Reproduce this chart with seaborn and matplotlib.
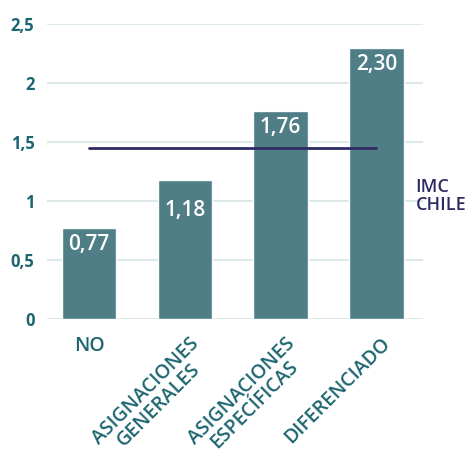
import matplotlib
matplotlib.use("Agg")
import matplotlib.pyplot as plt
import seaborn as sns
import pandas as pd

categories = ["NO", "ASIGNACIONES\nGENERALES", "ASIGNACIONES\nESPECÍFICAS", "DIFERENCIADO"]
values = [0.77, 1.18, 1.76, 2.30]
value_labels = ["0,77", "1,18", "1,76", "2,30"]
reference_value = 1.45
reference_label = "IMC\nCHILE"
y_ticks = [0, 0.5, 1, 1.5, 2, 2.5]
y_tick_labels = ["0", "0,5", "1", "1,5", "2", "2,5"]

BAR = "#4a7a83"
TEAL_TEXT = "#1d6670"
NAVY = "#2e2a63"
GRID = "#dde9e9"

sns.set_theme(style="white")
plt.rcParams["font.family"] = ["Open Sans", "DejaVu Sans"]

df = pd.DataFrame({"cat": categories, "val": values})

fig = plt.figure(figsize=(4.77, 4.53), dpi=100)
ax = fig.add_axes([0.0985, 0.296, 0.789, 0.651])

sns.barplot(data=df, x="cat", y="val", color=BAR, saturation=1, width=0.57,
            ax=ax, zorder=2, alpha=0.97)

ax.set_ylim(0, 2.5)
ax.set_xlim(-0.44, 3.49)
ax.set_yticks(y_ticks)
ax.set_yticklabels(y_tick_labels)
ax.grid(axis="y", color=GRID, lw=1.5, zorder=1)
ax.set_axisbelow(True)
for s in ax.spines.values():
    s.set_visible(False)
ax.set_xlabel("")
ax.set_ylabel("")
ax.tick_params(axis="y", length=0, pad=9, labelsize=12, labelcolor=TEAL_TEXT)
for t in ax.get_yticklabels():
    t.set_fontweight("bold")

# category labels: first one flat, the rest rotated
ax.set_xticks(range(len(categories)))
ax.set_xticklabels([])
ax.tick_params(axis="x", length=0)
for i, c in enumerate(categories):
    if i == 0:
        ax.annotate(c, xy=(i, 0), xycoords=("data", "axes fraction"),
                    xytext=(0, -12), textcoords="offset points",
                    ha="center", va="top", color=TEAL_TEXT, fontsize=14,
                    fontweight="semibold")
    else:
        ax.annotate(c, xy=(i, 0), xycoords=("data", "axes fraction"),
                    xytext=(3, -11), textcoords="offset points",
                    ha="right", va="top", rotation=45, rotation_mode="anchor",
                    multialignment="center",
                    color=TEAL_TEXT, fontsize=14, fontweight="semibold",
                    linespacing=0.9)

# value labels inside bar tops
label_drop = [12, 22, 12, 12]
for i, (v, lab) in enumerate(zip(values, value_labels)):
    ax.annotate(lab, xy=(i, v), xytext=(0, -label_drop[i]), textcoords="offset points",
                ha="center", va="center", color="white", fontsize=15,
                fontweight="semibold")

# reference line across the categories
ax.plot([0, len(categories) - 1], [reference_value, reference_value],
        color=NAVY, lw=2, zorder=3)
ax.text(3.41, 1.04, reference_label, ha="left", va="center", color=NAVY,
        fontsize=13, fontweight="semibold", linespacing=1.0, clip_on=False)

fig.savefig("out.png", dpi=100)
